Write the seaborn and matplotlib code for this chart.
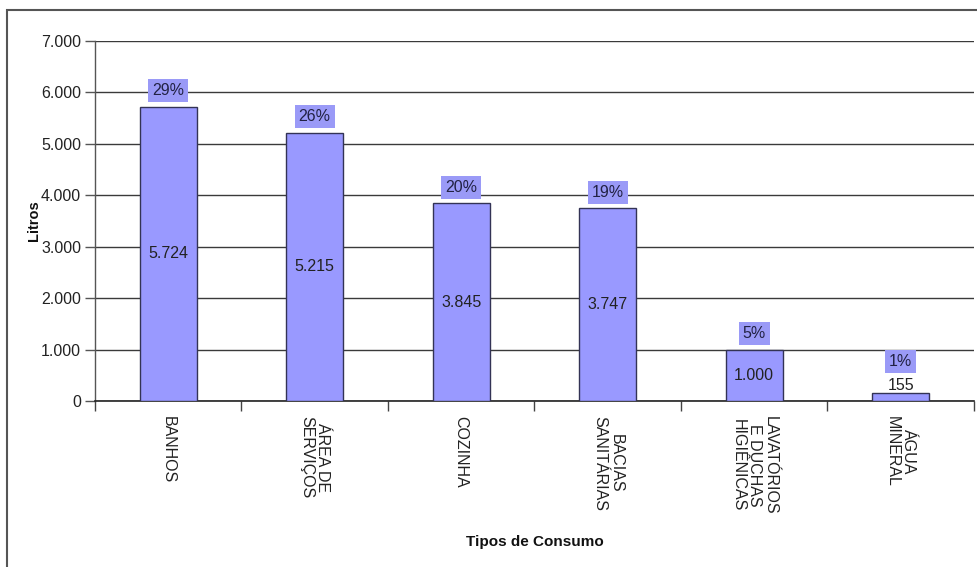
import matplotlib
matplotlib.use("Agg")
import matplotlib.pyplot as plt
from matplotlib.patches import Rectangle
from matplotlib.ticker import FixedLocator, FuncFormatter
import seaborn as sns
import pandas as pd

categorias = ["BANHOS", "ÁREA DE\nSERVIÇOS", "COZINHA", "BACIAS\nSANITÁRIAS",
              "LAVATÓRIOS\nE DUCHAS\nHIGIÊNICAS", "ÁGUA\nMINERAL"]
litros = [5724, 5215, 3845, 3747, 1000, 155]
percentuais = ["29%", "26%", "20%", "19%", "5%", "1%"]
y_ticks = [0, 1000, 2000, 3000, 4000, 5000, 6000, 7000]

sns.set_style("white")
plt.rcParams["font.family"] = ["Liberation Sans", "DejaVu Sans"]

df = pd.DataFrame({"Tipo": categorias, "Litros": litros})

fig = plt.figure(figsize=(9.78, 5.67), dpi=100)
ax = fig.add_axes([95 / 978, 1 - 401 / 567, 879 / 978, 360 / 567])

bar_color = "#9999FF"
sns.barplot(data=df, x="Tipo", y="Litros", order=categorias, color=bar_color,
            width=0.39, edgecolor="#333355", linewidth=1.0, saturation=1,
            ax=ax, zorder=3)

ax.set_ylim(0, 7000)
ax.set_xlim(-0.5, len(categorias) - 0.5)
ax.yaxis.set_major_locator(FixedLocator(y_ticks))
ax.yaxis.set_major_formatter(FuncFormatter(lambda v, p: f"{v:,.0f}".replace(",", ".")))
ax.grid(axis="y", color="#3a3a3a", linewidth=1.0, zorder=0)
ax.set_axisbelow(True)

for s in ["top", "right"]:
    ax.spines[s].set_visible(False)
ax.spines["left"].set_color("#555555")
ax.spines["bottom"].set_color("#222222")
ax.spines["left"].set_linewidth(1.0)
ax.spines["bottom"].set_linewidth(1.2)

ax.tick_params(axis="y", which="major", direction="out", length=7, width=1,
               color="#555555", labelsize=11.5, labelcolor="#222222", pad=3, left=True)
ax.tick_params(axis="x", which="major", length=0, pad=11, labelsize=11.5,
               labelcolor="#222222")
ax.set_xticks(range(len(categorias)))
ax.set_xticklabels(categorias, rotation=-90, ha="center", va="top",
                   multialignment="center", linespacing=1.1)
# tick marks on the category boundaries
ax.xaxis.set_minor_locator(FixedLocator([i - 0.5 for i in range(len(categorias) + 1)]))
ax.tick_params(axis="x", which="minor", direction="out", length=7, width=1,
               color="#444444", bottom=True)

# value labels inside the bars, percentages above them
for i, (v, pct) in enumerate(zip(litros, percentuais)):
    label = f"{v:,.0f}".replace(",", ".")
    if v > 600:
        ax.text(i, v / 2, label, ha="center", va="center", fontsize=11.5,
                color="#222222", zorder=5)
        pct_offset = 16
    else:
        ax.annotate(label, (i, v), xytext=(0, 8), textcoords="offset pixels",
                    ha="center", va="center", fontsize=11.5, color="#222222",
                    zorder=5)
        pct_offset = 32
    ax.annotate(pct, (i, v), xytext=(0, pct_offset), textcoords="offset pixels",
                ha="center", va="center", fontsize=11.5, color="#222244", zorder=6,
                bbox=dict(boxstyle="square,pad=0.25", fc="#9a9af7", ec="none"))

ax.set_ylabel("Litros", fontsize=10.5, fontweight="bold", color="#111111")
ax.yaxis.set_label_coords(-0.061, 0.5)
ax.set_xlabel("Tipos de Consumo", fontsize=11, fontweight="bold", color="#111111")
ax.xaxis.set_label_coords(0.5, -0.372)

# outer chart frame
fig.patches.append(Rectangle((7 / 978, -0.1), 1.2, 1.1 - 10 / 567,
                             transform=fig.transFigure, fill=False,
                             ec="#555555", lw=1.5))

fig.savefig("out.png", dpi=100)
